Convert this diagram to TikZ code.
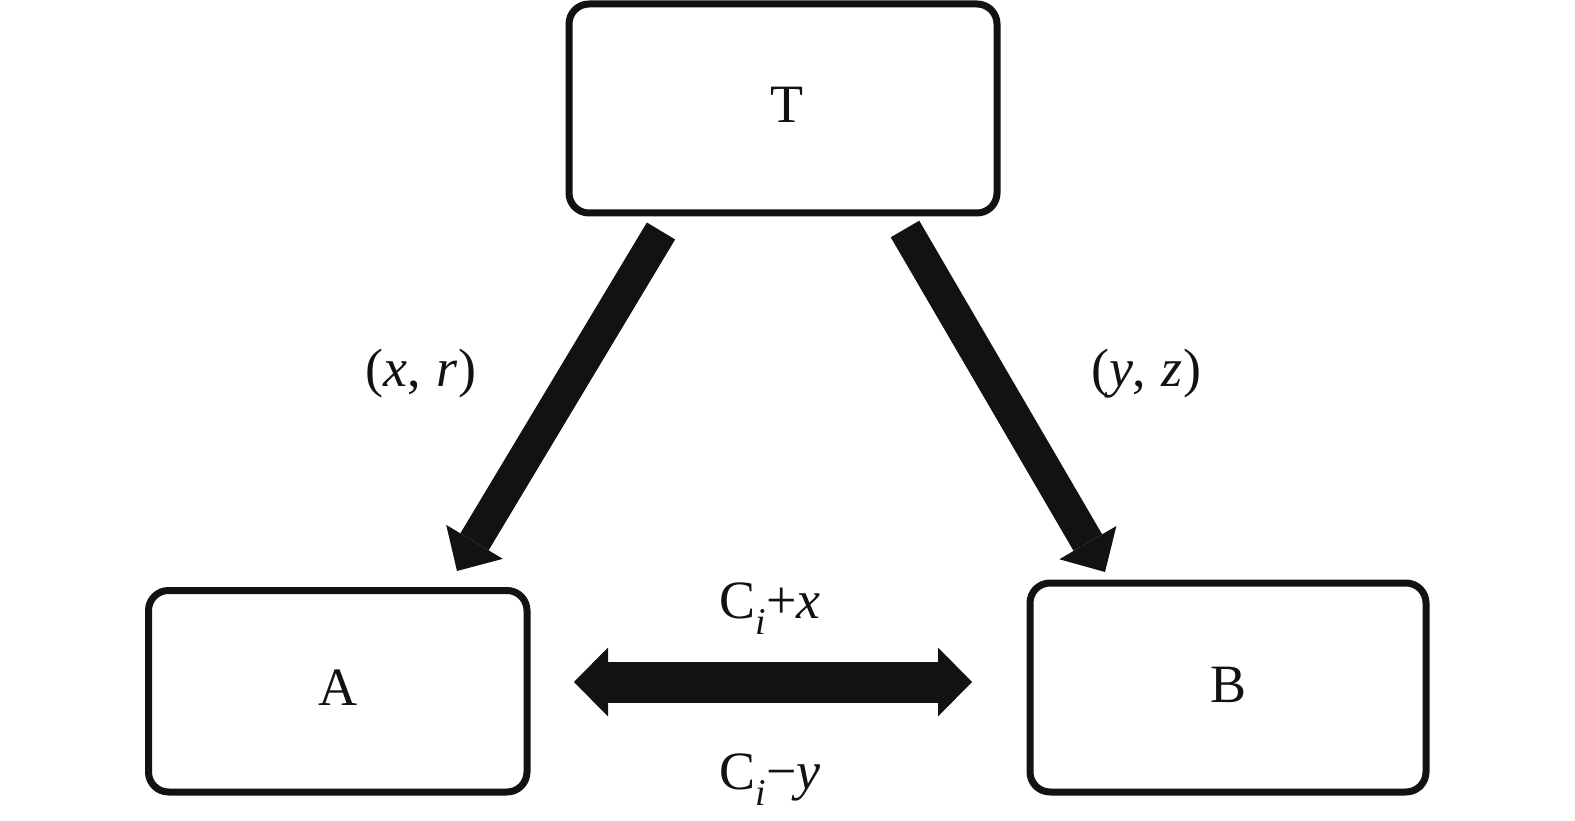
\documentclass[tikz,border=0pt]{standalone}
\usepackage{fontspec}
\setmainfont{Liberation Serif}
\usetikzlibrary{arrows.meta}
\definecolor{ink}{RGB}{17,18,17}
\tikzset{
  box/.style={draw=ink, line width=7pt, rounded corners=20pt, inner sep=0pt, text=ink, text height=36pt, text depth=7pt, font=\fontsize{54}{60}\selectfont},
  lbl/.style={text=ink, inner sep=0pt, anchor=base, font=\fontsize{54}{60}\selectfont},
  diag/.style={draw=ink, line width=33pt, -{Triangle[length=34pt,width=66pt,line width=0pt]}},
  dbl/.style={draw=ink, line width=41pt, {Triangle[length=34pt,width=69pt,line width=0pt]}-{Triangle[length=34pt,width=69pt,line width=0pt]}}
}
\begin{document}
\begin{tikzpicture}[x=1pt,y=-1pt]
\useasboundingbox (0,0) rectangle (1575,821);
\node[box, minimum width=428pt, minimum height=209pt] (T) at (783,108.5) {\hspace{8pt}T};
\node[box, minimum width=378.5pt, minimum height=201.5pt] (A) at (337.75,691.25) {A};
\node[box, minimum width=396pt, minimum height=209pt] (B) at (1228,687.5) {B};
\coordinate (s1) at (661,231);
\coordinate (e1) at (457,571);
\coordinate (s2) at (905,229);
\coordinate (e2) at (1105,572);
\coordinate (h1) at (574,682);
\coordinate (h2) at (972,682);
\draw[diag] (s1) -- (e1);
\draw[diag] (s2) -- (e2);
\draw[dbl] (h1) -- (h2);
\node[lbl] (l1) at (421,386) {(\textit{x},\hspace{2pt} \textit{r})};
\node[lbl] (l2) at (1146,386) {(\textit{y},\hspace{2pt} \textit{z})};
\node[lbl] (l3) at (770,618) {C\textsubscript{\textit{i}}+\textit{x}};
\node[lbl] (l4) at (770,789) {C\textsubscript{\textit{i}}−\textit{y}};
\end{tikzpicture}
\end{document}
